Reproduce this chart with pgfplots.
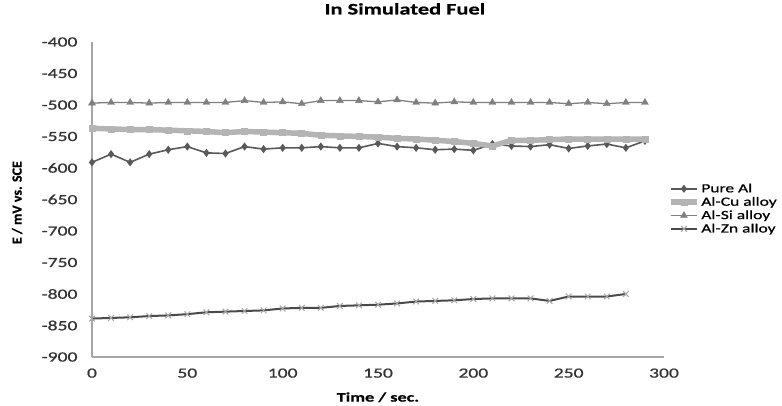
\documentclass[border=0pt]{standalone}
\usepackage{fontspec}
\setmainfont{Carlito}[FakeStretch=1.4, FakeBold=0.8]
\newfontfamily\ylabfont{Carlito}[FakeBold=0.8]
\usepackage{pgfplots}
\pgfplotsset{compat=1.18}
\definecolor{pureal}{HTML}{595959}
\definecolor{alcu}{HTML}{B4B4B4}
\definecolor{alsi}{HTML}{7F7F7F}
\definecolor{alzn}{HTML}{4A4A4A}
\definecolor{axgray}{HTML}{A6A6A6}

\begin{document}
\begin{tikzpicture}
  \useasboundingbox (-92pt,-49pt) rectangle (690pt,357pt);
  \begin{axis}[
    scale only axis,
    width=572pt, height=315pt,
    xmin=0, xmax=300, ymin=-900, ymax=-400,
    xtick={0,50,...,300}, ytick={-900,-850,...,-400},
    axis x line=bottom, axis y line=left,
    axis line style={-, draw=axgray, line width=1.3pt},
    major tick length=0pt,
    /pgf/number format/assume math mode=true,
    tick label style={font=\fontsize{14}{16}\selectfont, text=black!80},
    xticklabel style={anchor=north, yshift=-8pt},
    yticklabel style={anchor=east, xshift=-11pt},
    title={\bfseries In Simulated Fuel},
    title style={at={(axis description cs:0.547,1.086)}, anchor=center,
      font=\fontsize{16}{18}\selectfont},
    xlabel={\bfseries Time / sec.},
    xlabel style={at={(axis description cs:0.5,-0.128)}, anchor=center,
      font=\fontsize{13}{15}\selectfont},
    ylabel={\ylabfont\bfseries E / mV vs. SCE},
    ylabel style={at={(axis description cs:-0.131,0.49)}, anchor=center,
      font=\fontsize{14}{16}\selectfont},
    legend style={at={(axis description cs:1.007,0.556)}, anchor=north west,
      draw=none, fill=none, font=\fontsize{12.5}{14}\selectfont,
      row sep=0pt, inner sep=0pt,
      nodes={inner sep=1.6pt}},
    legend cell align=left,
    legend image code/.code={%
      \draw[mark repeat=2, mark phase=2, #1]
        plot coordinates {(0pt,0pt) (13pt,0pt) (26pt,0pt)};},
  ]
  \addplot[color=pureal, line width=1.6pt, mark=diamond*, mark size=2.8pt,
    mark options={solid, fill=pureal}] coordinates {
    (0,-591) (10,-578) (20,-591) (30,-578) (40,-571) (50,-566) (60,-576)
    (70,-577) (80,-566) (90,-570) (100,-568) (110,-568) (120,-566) (130,-568)
    (140,-568) (150,-561) (160,-566) (170,-568) (180,-571) (190,-570)
    (200,-572) (210,-562) (220,-565) (230,-566) (240,-563) (250,-569)
    (260,-565) (270,-562) (280,-568) (290,-557)
  };
  \addlegendentry{Pure Al}
  \addplot[color=alcu, line width=5.5pt, mark=square*, mark size=3pt,
    mark options={solid, fill=alcu, line width=0.5pt}] coordinates {
    (0,-537) (10,-538) (20,-539) (30,-539) (40,-540) (50,-541) (60,-542)
    (70,-544) (80,-542) (90,-543) (100,-544) (110,-545) (120,-548) (130,-549)
    (140,-550) (150,-551) (160,-553) (170,-554) (180,-556) (190,-558)
    (200,-561) (210,-565) (220,-556) (230,-556) (240,-555) (250,-554)
    (260,-554) (270,-554) (280,-554) (290,-554)
  };
  \addlegendentry{Al-Cu alloy}
  \addplot[color=alsi, line width=1.3pt, mark=triangle*, mark size=4pt,
    mark options={solid, fill=alsi, line width=0.4pt}] coordinates {
    (0,-497) (10,-496) (20,-496) (30,-497) (40,-496) (50,-496) (60,-496)
    (70,-496) (80,-493) (90,-496) (100,-495) (110,-498) (120,-493) (130,-493)
    (140,-493) (150,-495) (160,-492) (170,-496) (180,-497) (190,-495)
    (200,-496) (210,-496) (220,-496) (230,-496) (240,-496) (250,-498)
    (260,-496) (270,-498) (280,-496) (290,-496)
  };
  \addlegendentry{Al-Si alloy}
  \addplot[color=alzn, line width=2pt, mark=x, mark size=4pt,
    mark options={solid, draw=gray!70, line width=1pt}] coordinates {
    (0,-839) (10,-838) (20,-837) (30,-835) (40,-834) (50,-832) (60,-829)
    (70,-828) (80,-827) (90,-826) (100,-823) (110,-822) (120,-822) (130,-819)
    (140,-818) (150,-817) (160,-815) (170,-812) (180,-811) (190,-810)
    (200,-808) (210,-807) (220,-807) (230,-807) (240,-811) (250,-804)
    (260,-804) (270,-804) (280,-800)
  };
  \addlegendentry{Al-Zn alloy}
  \end{axis}
\end{tikzpicture}
\end{document}
